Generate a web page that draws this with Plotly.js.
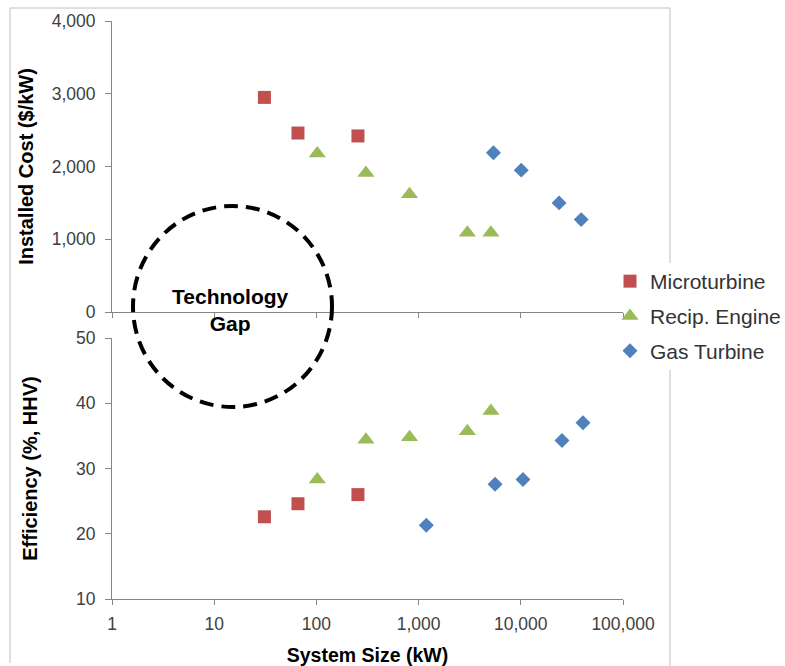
<!DOCTYPE html>
<html>
<head>
<meta charset="utf-8">
<script src="https://cdn.plot.ly/plotly-3.0.1.min.js"></script>
<style>html,body{margin:0;padding:0;background:#fff;}#chart{width:785px;height:666px;}</style>
</head>
<body>
<div id="chart"></div>
<script>
// ---- data ----
const microSize = [31, 66, 255];
const microCost = [2950, 2460, 2420];
const microEff  = [22.6, 24.6, 26.0];

const recipSize = [102, 305, 815, 3000, 5100];
const recipCost = [2180, 1910, 1620, 1090, 1090];
const recipEff  = [28.3, 34.4, 34.8, 35.7, 38.8];

const gasSizeCost = [5400, 10100, 23700, 39000];
const gasCost     = [2190, 1950, 1500, 1270];
const gasSizeEff  = [1190, 5600, 10500, 25300, 40600];
const gasEff      = [21.3, 27.6, 28.3, 34.3, 37.0];

const xTickVals = [1, 10, 100, 1000, 10000, 100000];
const xTickText = ['1', '10', '100', '1,000', '10,000', '100,000'];
const costTicks = [0, 1000, 2000, 3000, 4000];
const effTicks  = [10, 20, 30, 40, 50];

// ---- layout helpers (pixel -> paper) ----
const L = 112, R = 623, T = 21, B = 599, W = 785, H = 666;
const px = x => (x - L) / (R - L);
const py = y => (B - y) / (B - T);

const FONT = 'Arial, "Liberation Sans", sans-serif';
const red = '#C0504D', green = '#9BBB59', blue = '#4F81BD';
const axisCol = '#868686', tickFontCol = '#404040';

const sq = {symbol: 'square', size: 13, color: red};
const tri = {symbol: 'triangle-up', size: 15, color: green};
const dia = {symbol: 'diamond', size: 11.5, color: blue};

const traces = [
  {x: microSize, y: microCost, name: 'Microturbine', legendgroup: 'm', xaxis: 'x2', yaxis: 'y2',
   type: 'scatter', mode: 'markers', marker: sq},
  {x: recipSize, y: recipCost, name: 'Recip. Engine', legendgroup: 'r', xaxis: 'x2', yaxis: 'y2',
   type: 'scatter', mode: 'markers', marker: tri},
  {x: gasSizeCost, y: gasCost, name: 'Gas Turbine', legendgroup: 'g', xaxis: 'x2', yaxis: 'y2',
   type: 'scatter', mode: 'markers', marker: dia},
  {x: microSize, y: microEff, name: 'Microturbine', legendgroup: 'm', showlegend: false,
   type: 'scatter', mode: 'markers', marker: sq},
  {x: recipSize, y: recipEff, name: 'Recip. Engine', legendgroup: 'r', showlegend: false,
   type: 'scatter', mode: 'markers', marker: tri},
  {x: gasSizeEff, y: gasEff, name: 'Gas Turbine', legendgroup: 'g', showlegend: false,
   type: 'scatter', mode: 'markers', marker: dia}
];

const xCommon = {
  type: 'log', range: [0, 5], domain: [0, 1],
  showline: true, linecolor: axisCol, linewidth: 1,
  ticks: 'outside', ticklen: 5, tickcolor: axisCol, tickwidth: 1,
  showgrid: false, zeroline: false, ticklabelstandoff: 4,
  tickvals: xTickVals, ticktext: xTickText,
  tickfont: {family: FONT, size: 17.5, color: tickFontCol}
};
const yCommon = {
  showline: true, linecolor: axisCol, linewidth: 1,
  ticks: 'outside', ticklen: 6, tickcolor: axisCol, tickwidth: 1,
  showgrid: false, zeroline: false, ticklabelstandoff: 6,
  tickfont: {family: FONT, size: 17.5, color: tickFontCol}
};

const frameCol = '#BFBFBF';
const frame = (x0, y0, x1, y1) => ({type: 'line', xref: 'paper', yref: 'paper',
  x0: px(x0), y0: py(y0), x1: px(x1), y1: py(y1), layer: 'below',
  line: {color: frameCol, width: 1}});

const layout = {
  width: W, height: H,
  margin: {l: L, r: W - R, t: T, b: H - B, pad: 0, autoexpand: false},
  paper_bgcolor: '#ffffff', plot_bgcolor: 'rgba(0,0,0,0)',
  font: {family: FONT, color: '#262626'},
  showlegend: true,
  xaxis: Object.assign({}, xCommon, {anchor: 'y',
    title: {text: '<b>System Size (kW)</b>', standoff: 22, font: {family: FONT, size: 19.5, color: '#000'}}}),
  xaxis2: Object.assign({}, xCommon, {anchor: 'y2', matches: 'x', showticklabels: false}),
  yaxis: Object.assign({}, yCommon, {domain: [0, py(338)], range: [10, 50], tickvals: effTicks,
    title: {text: '<b>Efficiency (%, HHV)</b>', standoff: 33, font: {family: FONT, size: 20, color: '#000'}}}),
  yaxis2: Object.assign({}, yCommon, {domain: [py(312), 1], range: [0, 4000], tickvals: costTicks,
    tickformat: ',d', anchor: 'x2',
    title: {text: '<b>Installed Cost ($/kW)</b>', standoff: 12, font: {family: FONT, size: 20, color: '#000'}}}),
  legend: {x: px(610), y: py(261), xanchor: 'left', yanchor: 'top',
    font: {family: FONT, size: 21, color: '#333333'}, tracegroupgap: 4.5,
    bgcolor: 'rgba(0,0,0,0)', borderwidth: 0},
  shapes: [
    frame(10, 8, 670, 8),
    frame(10, 8, 10, 663),
    frame(670, 8, 670, 263),
    frame(670, 370, 670, 666),
    {type: 'circle', xref: 'paper', yref: 'paper',
     x0: px(133), x1: px(332), y0: py(407), y1: py(206),
     line: {color: '#000', width: 4, dash: '14px,8px'}, layer: 'above'}
  ],
  annotations: [
    {xref: 'paper', yref: 'paper', x: px(230), y: py(310), text: '<b>Technology</b><br><b>Gap</b>',
     showarrow: false, xanchor: 'center', yanchor: 'middle',
     font: {family: FONT, size: 21, color: '#000'}}
  ]
};

Plotly.newPlot('chart', traces, layout, {staticPlot: true, displayModeBar: false});
</script>
</body>
</html>
